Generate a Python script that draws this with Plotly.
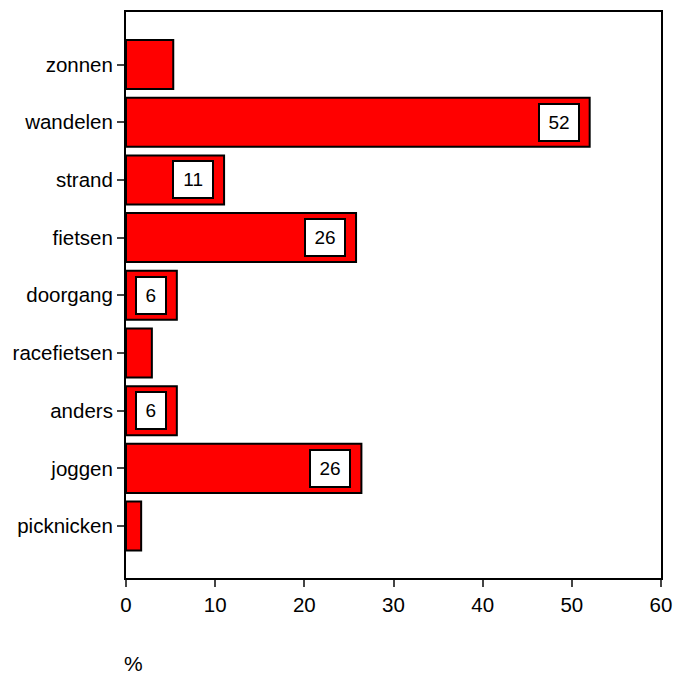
import plotly.graph_objects as go

categories = ["zonnen", "wandelen", "strand", "fietsen", "doorgang",
              "racefietsen", "anders", "joggen", "picknicken"]
values = [5.3, 52.0, 11.0, 25.8, 5.7, 2.9, 5.7, 26.4, 1.7]
labels = ["", "52", "11", "26", "6", "", "6", "26", ""]
x_ticks = [0, 10, 20, 30, 40, 50, 60]

FONT = "Liberation Sans, Arial, sans-serif"

W, H = 675, 674
ML, MR, MT, MB = 126, 14, 12, 96
PW, PH = W - ML - MR, H - MT - MB

fig = go.Figure()
fig.add_trace(go.Bar(
    y=categories, x=values, orientation="h", width=0.85,
    marker=dict(color="#FF0000", line=dict(color="black", width=2)),
    hoverinfo="x+y",
))

for cat, v, lab in zip(categories, values, labels):
    if lab:
        fig.add_annotation(
            x=v, y=cat, xref="x", yref="y", text=lab, showarrow=False,
            xanchor="right", yanchor="middle", xshift=-10,
            width=len(lab) * 10.6 + 3, align="center",
            bgcolor="white", bordercolor="black", borderwidth=2, borderpad=7,
            font=dict(family=FONT, size=19, color="black"),
        )

fig.add_annotation(
    x=(133 - ML) / PW, y=-(663 - (H - MB)) / PH, xref="paper", yref="paper",
    text="%", showarrow=False, xanchor="center", yanchor="middle",
    font=dict(family=FONT, size=21, color="black"),
)

fig.update_layout(
    width=W, height=H,
    margin=dict(l=ML, r=MR, t=MT, b=MB, autoexpand=False),
    plot_bgcolor="white", paper_bgcolor="white",
    font=dict(family=FONT, size=20, color="black"),
    showlegend=False,
    xaxis=dict(
        range=[0, 60], tickvals=x_ticks, ticks="outside", ticklen=7,
        tickwidth=2, showline=True, linecolor="black", linewidth=2,
        mirror=True, showgrid=False, zeroline=False,
        tickfont=dict(size=20.5),
    ),
    yaxis=dict(
        categoryorder="array", categoryarray=categories,
        range=[8.90, -0.91], ticks="outside", ticklen=7, tickwidth=2,
        showline=True, linecolor="black", linewidth=2, mirror=True,
        showgrid=False, zeroline=False, tickfont=dict(size=20.5),
    ),
)

fig.write_html(
    "out.html",
    config={"displayModeBar": False},
    post_script="document.body.style.margin='0';document.body.style.overflow='hidden';",
)
